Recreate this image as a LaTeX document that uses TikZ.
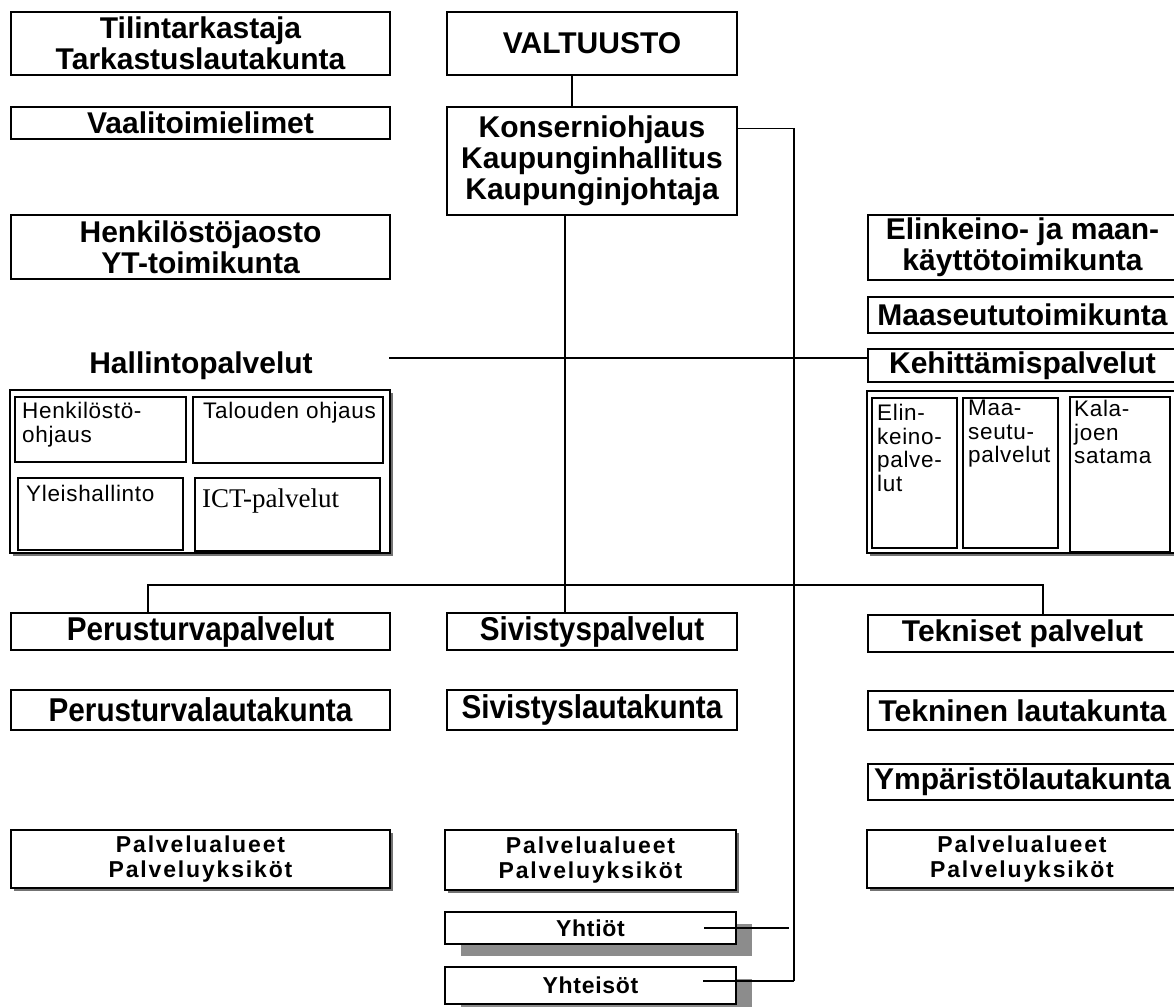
\documentclass[tikz,border=0pt]{standalone}
\usepackage{fontspec}
\setmainfont{Liberation Sans}
\newfontfamily\narrowf[FakeStretch=0.9]{Liberation Sans}
\newfontfamily\serifict{Liberation Serif}
\newfontfamily\spacedf[LetterSpace=8]{Liberation Sans}
\newfontfamily\lspacedf[LetterSpace=3]{Liberation Sans}
\newfontfamily\smallf[LetterSpace=3]{Liberation Sans}
\usetikzlibrary{shadows,calc}
\newcommand\bx[7][]{\node[boxst,#1,minimum width={(#4-#2)*1pt},minimum height={(#5-#3)*1pt}] (#6) at ({(#2+#4)/2},{(#3+#5)/2}) {#7};}
\tikzset{
  boxst/.style={draw,line width=2.4pt,fill=white,inner sep=0pt,align=center,
    font=\bfseries\fontsize{30}{31}\selectfont},
  narrowst/.style={font=\narrowf\bfseries\fontsize{33}{34}\selectfont},
  innerbox/.style={draw,line width=1.8pt,fill=white,inner sep=0pt},
  smalltext/.style={anchor=north west,inner sep=0pt,align=left,
    font=\smallf\fontsize{22.5}{23.5}\selectfont},
  smallshadow/.style={drop shadow={shadow xshift=3pt,shadow yshift=-3pt,fill=black!55,opacity=1}},
  bigshadow/.style={drop shadow={shadow xshift=16pt,shadow yshift=-12pt,fill=black!45,opacity=1}},
  palst/.style={font=\spacedf\bfseries\fontsize{23}{24.5}\selectfont},
  yhst/.style={font=\lspacedf\bfseries\fontsize{23}{24}\selectfont},
  conn/.style={line width=1.3pt}
}
\begin{document}
\begin{tikzpicture}[x=1pt,y=-1pt]
\useasboundingbox (0,0) rectangle (1174,1006);
\fill[white] (0,0) rectangle (1174,1006);
% left column
\bx{11}{12}{390}{75}{til}{Tilintarkastaja\\Tarkastuslautakunta}
\bx{11}{107}{390}{139}{vaali}{Vaalitoimielimet}
\bx{11}{215}{390}{279}{henk}{Henkilöstöjaosto\\YT-toimikunta}
\node[inner sep=0pt,font=\bfseries\fontsize{30}{31}\selectfont] (hp) at (201,366) {Hallintopalvelut};
\bx[smallshadow,line width=1.6pt]{10}{390}{390}{553}{halout}{}
\bx[innerbox]{15}{397}{186}{462}{henkoh}{}
\bx[innerbox]{193}{397}{383}{463}{talous}{}
\bx[innerbox]{18}{478}{183}{550}{yleis}{}
\bx[innerbox]{195}{478}{380}{551}{ict}{}
\node[smalltext] (thenk) at (22,402) {Henkilöstö-\\ohjaus};
\node[smalltext] (ttal) at (203,402) {Talouden ohjaus};
\node[smalltext] (tyle) at (26,485) {Yleishallinto};
\node[smalltext,font=\serifict\fontsize{27}{28}\selectfont] (tict) at (202,489) {ICT-palvelut};
% centre column
\bx{447}{12}{737}{75}{valt}{VALTUUSTO}
\bx{447}{107}{737}{215}{kons}{Konserniohjaus\\Kaupunginhallitus\\Kaupunginjohtaja}
% right column
\bx{868}{215}{1177}{280}{elink}{Elinkeino- ja maan-\\käyttötoimikunta}
\bx{868}{297}{1177}{333}{maas}{Maaseututoimikunta}
\bx{868}{349}{1177}{382}{kehit}{Kehittämispalvelut}
\bx[smallshadow,line width=1.6pt]{867}{391}{1177}{553}{kehout}{}
\bx[innerbox]{872}{398}{957}{548}{elinp}{}
\bx[innerbox]{963}{398}{1058}{548}{maap}{}
\bx[innerbox]{1070}{397}{1170}{552}{kala}{}
\node[smalltext] (telin) at (877,404) {Elin-\\keino-\\palve-\\lut};
\node[smalltext] (tmaa) at (968,400) {Maa-\\seutu-\\palvelut};
\node[smalltext] (tkala) at (1074,400) {Kala-\\joen\\satama};
% service rows
\bx[narrowst]{11}{613}{390}{650}{perus}{Perusturvapalvelut}
\bx[narrowst]{447}{613}{737}{650}{sivis}{Sivistyspalvelut}
\bx{868}{615}{1177}{652}{tekn}{Tekniset palvelut}
\bx[narrowst]{11}{690}{390}{730}{peruslk}{Perusturvalautakunta}
\bx[narrowst]{447}{690}{737}{730}{sivislk}{Sivistyslautakunta}
\bx{868}{691}{1177}{730}{teknlk}{Tekninen lautakunta}
\bx{868}{764}{1177}{800}{ymp}{Ympäristölautakunta}
\bx[smallshadow,palst]{11}{830}{390}{888}{pal1}{Palvelualueet\\Palveluyksiköt}
\bx[smallshadow,palst]{445}{830}{736}{890}{pal2}{Palvelualueet\\Palveluyksiköt}
\bx[smallshadow,palst]{867}{830}{1177}{888}{pal3}{Palvelualueet\\Palveluyksiköt}
\bx[bigshadow,yhst]{445}{912}{736}{944}{yhtiot}{Yhtiöt}
\bx[bigshadow,yhst]{445}{967}{736}{1004}{yhteisot}{Yhteisöt}
% connectors
\draw[conn] ([xshift=-20pt]valt.south) -- ([xshift=-20pt]kons.north);
\draw[conn] ([xshift=-27pt]kons.south) -- ([xshift=-27pt]sivis.north);
\coordinate (hl) at (389,358);
\draw[conn] (hl) -- (hl -| kehit.west);
\coordinate (rb) at (794,981);
\draw[conn] ([yshift=-23pt]kons.north east) -| (rb);
\draw[conn] ($(yhteisot.east |- rb)+(-34,0)$) -- (rb);
\draw[conn] ($(yhtiot.east)+(-33,0)$) -- ($(yhtiot.east -| rb)+(-5,0)$);
\coordinate (bl) at (148,585);
\coordinate (br) at (1043,585);
\draw[conn] (bl |- perus.north) -- (bl) -- (br) -- (br |- tekn.north);
\end{tikzpicture}
\end{document}
